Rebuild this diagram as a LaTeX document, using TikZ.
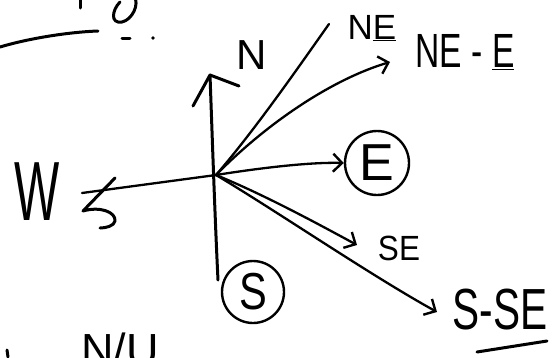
\documentclass[tikz,border=0pt]{standalone}
\usepackage{fontspec}
\setmainfont{Liberation Sans}
\usetikzlibrary{arrows.meta}
\newcommand{\fs}[1]{\fontsize{#1}{#1}\selectfont}
\begin{document}
\begin{tikzpicture}[x=1pt,y=-1pt,
  ink/.style={line width=3pt,line cap=round,line join=round},
  thin ink/.style={line width=2.3pt,line cap=round,line join=round},
  barb/.style={-{Straight Barb[length=9pt,width=18pt,line width=2.4pt]}},
  lab/.style={inner sep=0pt},
  circlab/.style={draw,circle,line width=2.4pt,inner sep=0pt,minimum size=62pt}]
\useasboundingbox (0,0) rectangle (555,357);
% center and ends
\coordinate (O) at (216,175);
\coordinate (Ntip) at (210,75);
\coordinate (Sbot) at (218,280);
\coordinate (NEend) at (329,24);
\coordinate (NEEtip) at (390,62);
\coordinate (SEtip) at (357,245);
\coordinate (SSEtip) at (437,312);
\coordinate (Wend) at (82,193);
% labels
\node[lab] (N) at (252,55) {\fs{42}N};
\node[lab] (NE) at (372,28) {\fs{35}N\underline{E}};
\node[lab] (NEE) at (465,52) {\scalebox{0.7}[1]{\fs{48}NE - \underline{E}}};
\node[circlab,minimum size=64pt] (E) at (377,163) {\fs{52}E};
\node[lab] (SE) at (399,248) {\scalebox{0.9}[1]{\fs{35}SE}};
\node[lab] (SSE) at (500,310) {\scalebox{0.7}[1]{\fs{58}S-SE}};
\node[lab] (W) at (37,192) {\scalebox{0.57}[1]{\fs{84}W}};
\node[circlab,minimum size=62pt] (S) at (253,292) {\scalebox{0.8}[1]{\fs{52}S}};
% axes
\draw[ink] (Sbot) .. controls (215,220) and (212,130) .. (Ntip);
\draw[ink] (193,106) -- (Ntip) -- (239,86);
\draw[thin ink] (O) -- (Wend);
% W hook
\draw[ink] (115,178) -- (83,211) .. controls (100,206) and (116,212) .. (115,221) .. controls (114,226) and (106,228) .. (100,228);
% rays
\draw[thin ink] (O) .. controls (255,130) and (300,65) .. (NEend);
\draw[thin ink,barb] (O) .. controls (265,125) and (330,80) .. (NEEtip);
\draw[thin ink,barb] (O) .. controls (260,168) and (310,162) .. (E.west);
\draw[thin ink,barb] (O) .. controls (265,195) and (320,225) .. (SEtip);
\draw[thin ink,barb] (O) .. controls (275,210) and (370,275) .. (SSEtip);
% underline S-SE
\draw[ink] (477,352) -- (547,341);
% top-left fragments
\draw[ink] (0,47) .. controls (30,38) and (70,32) .. (98,31);
\draw[ink] (80,0) -- (80,8);
\draw[ink] (134,-4) .. controls (140,4) and (132,20) .. (122,22) .. controls (110,24) and (112,10) .. (120,2);
\draw[ink] (122,38) -- (130,38);
\fill (153,38) circle (1.8pt);
% bottom fragments
\node[lab,anchor=base] (NU) at (120,365) {\fs{45}N/U};
\draw[ink] (7,350) -- (8,357);
\end{tikzpicture}
\end{document}
